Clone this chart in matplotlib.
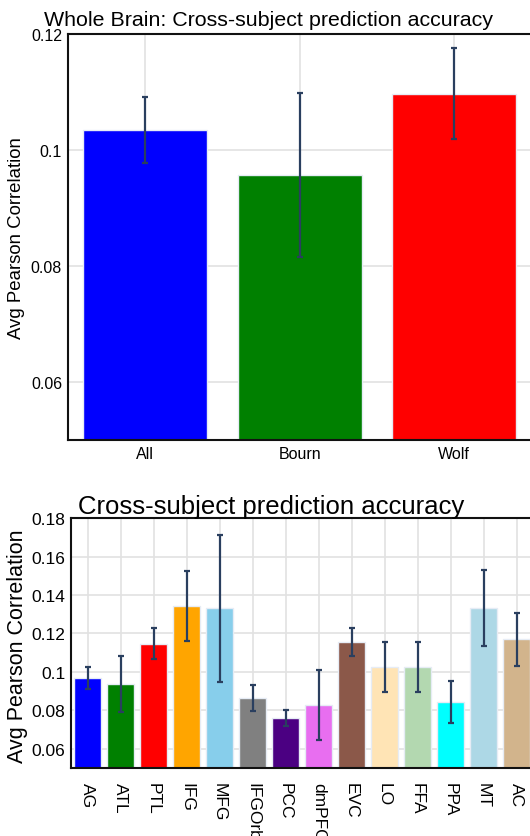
import matplotlib
matplotlib.use("Agg")
import matplotlib.pyplot as plt
import numpy as np

plt.rcParams['font.family'] = ['Liberation Sans', 'DejaVu Sans']

# whole brain
wb_names = ['All', 'Bourn', 'Wolf']
wb_means = [0.1034, 0.0957, 0.1097]
wb_errs = [0.0057, 0.0141, 0.0078]
wb_colors = ['blue', 'green', 'red']

# per ROI
roi_names = ['AG', 'ATL', 'PTL', 'IFG', 'MFG', 'IFGOrb', 'PCC', 'dmPFC',
             'EVC', 'LO', 'FFA', 'PPA', 'MT', 'AC']
roi_means = [0.0970, 0.0937, 0.1146, 0.1344, 0.1332, 0.0865, 0.0760, 0.0829,
             0.1155, 0.1026, 0.1026, 0.0844, 0.1331, 0.1169]
roi_errs = [0.0058, 0.0144, 0.0080, 0.0183, 0.0382, 0.0068, 0.0043, 0.0181,
            0.0074, 0.0128, 0.0128, 0.0111, 0.0197, 0.0138]
roi_colors = ['blue', 'green', 'red', 'orange', 'skyblue', 'gray', 'indigo', '#e86ef0',
              '#8b5849', 'moccasin', '#b3d8b0', 'cyan', 'lightblue', 'tan']

W, H = 530, 837
ERR_COLOR = '#2a3f5f'
GRID = '#e2e2e2'


def px_box(left, top, right, bottom):
    return [left / W, 1 - bottom / H, (right - left) / W, (bottom - top) / H]


def bar_panel(ax, names, means, errs, colors, ylim, yticks, ytick_labels, tick_fs, label_fs, rot):
    x = np.arange(len(names))
    ax.bar(x, means, width=0.8, color=colors, edgecolor='#e6ecf5', linewidth=1.0, zorder=2)
    ax.errorbar(x, means, yerr=errs, fmt='none', ecolor=ERR_COLOR, elinewidth=1.6,
                capsize=2.2, capthick=1.6, zorder=3)
    ax.set_xlim(-0.5, len(names) - 0.5)
    ax.set_ylim(*ylim)
    ax.set_xticks(x)
    ax.set_xticklabels(names, rotation=rot, fontsize=tick_fs,
                       va='top', ha='center')
    ax.set_yticks(yticks)
    ax.set_yticklabels(ytick_labels, fontsize=tick_fs)
    ax.grid(True, color=GRID, linewidth=1.2, zorder=0)
    ax.set_axisbelow(True)
    ax.tick_params(length=0, pad=4)
    for s in ['left', 'bottom', 'top']:
        ax.spines[s].set_color('#111111')
        ax.spines[s].set_linewidth(1.5)
    ax.spines['right'].set_visible(False)
    ax.set_ylabel('Avg Pearson Correlation', fontsize=label_fs)


fig = plt.figure(figsize=(W / 100, H / 100), dpi=100)

ax1 = fig.add_axes(px_box(67.6, 34.8, 531.7, 441))
bar_panel(ax1, wb_names, wb_means, wb_errs, wb_colors, (0.05, 0.12),
          [0.06, 0.08, 0.1, 0.12], ['0.06', '0.08', '0.1', '0.12'], 11.5, 13.4, 0)
ax1.tick_params(axis='x', pad=4)
ax1.yaxis.set_label_coords((25 - 67.6) / (531.7 - 67.6), 0.5)
fig.text(44 / W, 1 - 26 / H, 'Whole Brain: Cross-subject prediction accuracy',
         fontsize=15.4, ha='left', va='baseline')

ax2 = fig.add_axes(px_box(71, 519.2, 533, 769))
bar_panel(ax2, roi_names, roi_means, roi_errs, roi_colors, (0.05, 0.18),
          [0.06, 0.08, 0.1, 0.12, 0.14, 0.16, 0.18],
          ['0.06', '0.08', '0.1', '0.12', '0.14', '0.16', '0.18'], 12.5, 15.5, -90)
ax2.tick_params(axis='x', pad=10)
ax2.yaxis.set_label_coords((28 - 71) / (533 - 71), 0.49)
fig.text(77.8 / W, 1 - 513.8 / H, 'Cross-subject prediction accuracy',
         fontsize=18.5, ha='left', va='baseline')

fig.savefig('out.png', dpi=100)
